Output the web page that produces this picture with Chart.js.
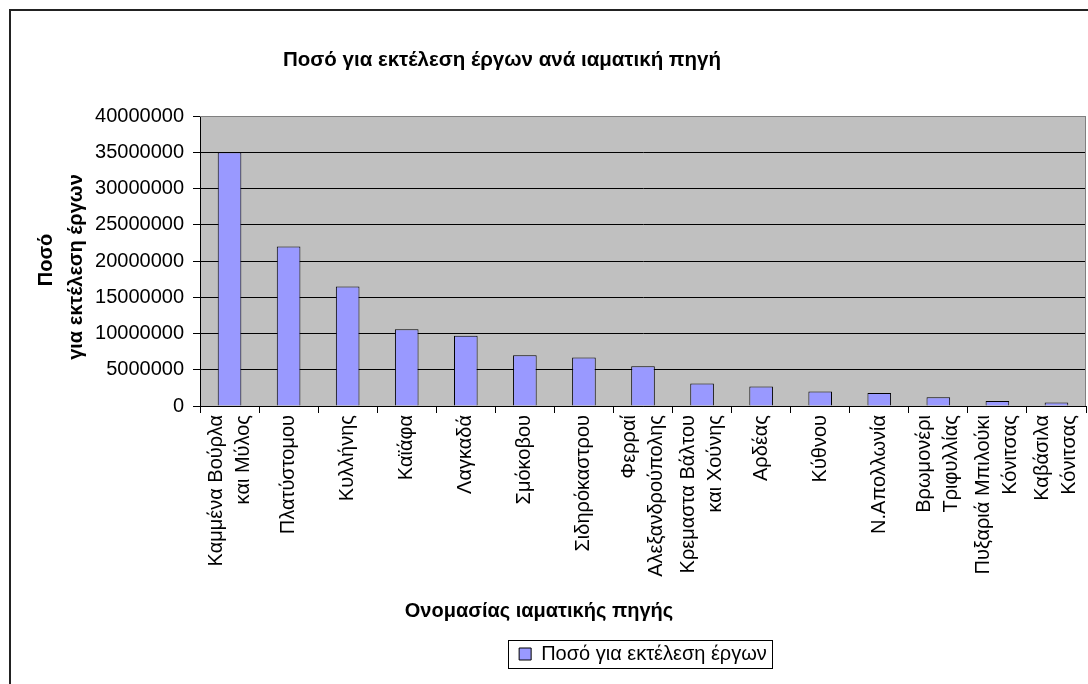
<!DOCTYPE html>
<html>
<head>
<meta charset="utf-8">
<script src="https://cdn.jsdelivr.net/npm/chart.js@4.4.1/dist/chart.umd.min.js"></script>
<style>
  html, body { margin: 0; padding: 0; background: #fff; }
  #wrap { position: relative; width: 1088px; height: 684px; }
</style>
</head>
<body>
<div id="wrap"><canvas id="chart" width="1088" height="684"></canvas></div>
<script>
const chartTitle = 'Ποσό για εκτέλεση έργων ανά ιαματική πηγή';
const xAxisTitle = 'Ονομασίας ιαματικής πηγής';
const yAxisTitle = ['Ποσό', 'για εκτέλεση έργων'];
const seriesName = 'Ποσό για εκτέλεση έργων';

const springs = [
    ['Καμμένα Βούρλα', 'και Μύλος'],
    'Πλατύστομου',
    'Κυλλήνης',
    'Καϊάφα',
    'Λαγκαδά',
    'Σμόκοβου',
    'Σιδηρόκαστρου',
    ['Φερραί', 'Αλεξανδρούπολης'],
    ['Κρεμαστα Βάλτου', 'και Χούνης'],
    'Αρδέας',
    'Κύθνου',
    'Ν.Απολλωνία',
    ['Βρωμονέρι', 'Τριφυλλίας'],
    ['Πυξαριά Μπιλούκι', 'Κόνιτσας'],
    ['Καβάσιλα', 'Κόνιτσας'],
];

const amounts = [
    35000000, 22000000, 16500000, 10600000, 9700000,
    7000000, 6700000, 5500000, 3100000, 2700000,
    2000000, 1800000, 1200000, 700000, 500000,
];

const yMax = 40000000;
const yStep = 5000000;

const FONT = "'Liberation Sans', Arial, sans-serif";
Chart.defaults.font.family = FONT;
Chart.defaults.color = '#000';

const PLOT_LEFT = 200;
const PLOT_BOTTOM = 406;
const BOTTOM_PAD = 10;
const LEGEND_FONT = 20;
const LEGEND_PAD = 10;

// background, frame, plot border, titles and the legend box
const excelLook = {
    id: 'excelLook',
    beforeDraw(chart) {
        const { ctx, chartArea: a } = chart;
        ctx.save();
        ctx.fillStyle = '#fff';
        ctx.fillRect(0, 0, chart.width, chart.height);
        ctx.fillStyle = '#c0c0c0';
        ctx.fillRect(a.left, a.top, a.right - a.left, a.bottom - a.top);
        ctx.strokeStyle = '#222';
        ctx.lineWidth = 2;
        ctx.beginPath();
        ctx.moveTo(10, chart.height);
        ctx.lineTo(10, 10);
        ctx.lineTo(chart.width, 10);
        ctx.stroke();
        ctx.restore();

        // center multi-line category labels on their tick
        const items = chart.scales.x.getLabelItems();
        items.forEach(item => {
            if (item._centered) return;
            const n = Array.isArray(item.label) ? item.label.length : 1;
            item.options.translation[0] -= (n - 1) * item.font.lineHeight / 2;
            item._centered = true;
        });
    },
    afterDraw(chart) {
        const { ctx, chartArea: a } = chart;
        ctx.save();
        ctx.strokeStyle = '#808080';
        ctx.lineWidth = 1;
        ctx.beginPath();
        ctx.moveTo(a.left, a.top + 0.5);
        ctx.lineTo(a.right - 0.5, a.top + 0.5);
        ctx.lineTo(a.right - 0.5, a.bottom);
        ctx.stroke();

        ctx.fillStyle = '#000';
        ctx.textAlign = 'center';
        ctx.textBaseline = 'middle';
        ctx.font = 'bold 20.5px ' + FONT;
        ctx.fillText(chartTitle, 502, 60);

        ctx.font = 'bold 20px ' + FONT;
        ctx.fillText(xAxisTitle, 539, 611);

        ctx.save();
        ctx.translate(46, 0);
        ctx.rotate(-Math.PI / 2);
        ctx.fillText(yAxisTitle[0], -260, 0);
        ctx.fillText(yAxisTitle[1], -267, 30);
        ctx.restore();

        const hb = chart.legend.legendHitBoxes[0];
        if (hb) {
            ctx.strokeStyle = '#000';
            ctx.lineWidth = 1;
            ctx.strokeRect(Math.round(hb.left - 11) + 0.5, Math.round(hb.top - 4) + 0.5,
                Math.round(hb.width + 16), Math.round(hb.height + 8));
        }
        ctx.restore();
    }
};

new Chart(document.getElementById('chart'), {
    type: 'bar',
    data: {
        labels: springs,
        datasets: [{
            label: seriesName,
            data: amounts,
            backgroundColor: '#9999ff',
            borderColor: '#000',
            borderWidth: 1,
            barPercentage: 0.4,
            categoryPercentage: 1,
        }]
    },
    options: {
        responsive: false,
        animation: false,
        devicePixelRatio: 1,
        layout: {
            padding: { top: 116, left: 0, right: 2, bottom: BOTTOM_PAD }
        },
        plugins: {
            title: { display: false },
            tooltip: { enabled: false },
            legend: {
                position: 'bottom',
                fullSize: false,
                labels: {
                    boxWidth: 12,
                    boxHeight: 12,
                    padding: LEGEND_PAD,
                    color: '#000',
                    font: { size: LEGEND_FONT },
                }
            }
        },
        scales: {
            x: {
                grid: {
                    display: true,
                    drawOnChartArea: false,
                    drawTicks: true,
                    tickLength: 7,
                    color: '#000',
                    offset: true,
                },
                border: { display: true, color: '#000', width: 1 },
                ticks: {
                    autoSkip: false,
                    maxRotation: 90,
                    minRotation: 90,
                    padding: 2,
                    color: '#000',
                    font: { size: 20, lineHeight: 1.35 },
                },
                afterFit: s => {
                    const legendH = LEGEND_FONT + LEGEND_PAD + 10;
                    s.height = s.chart.height - PLOT_BOTTOM - BOTTOM_PAD - legendH;
                    s.paddingLeft = 0;
                    s.paddingRight = 0;
                }
            },
            y: {
                min: 0,
                max: yMax,
                ticks: {
                    stepSize: yStep,
                    padding: 9,
                    color: '#000',
                    font: { size: 20 },
                    callback: v => String(v),
                },
                grid: {
                    color: ctx => (ctx.tick && ctx.tick.value === yMax) ? '#808080' : '#000',
                    tickColor: '#000',
                    tickLength: 7,
                    drawTicks: true,
                },
                border: { display: true, color: '#000', width: 1 },
                afterFit: s => {
                    s.width = PLOT_LEFT;
                    s.paddingTop = 0;
                    s.paddingBottom = 0;
                }
            }
        }
    },
    plugins: [excelLook]
});
</script>
</body>
</html>
